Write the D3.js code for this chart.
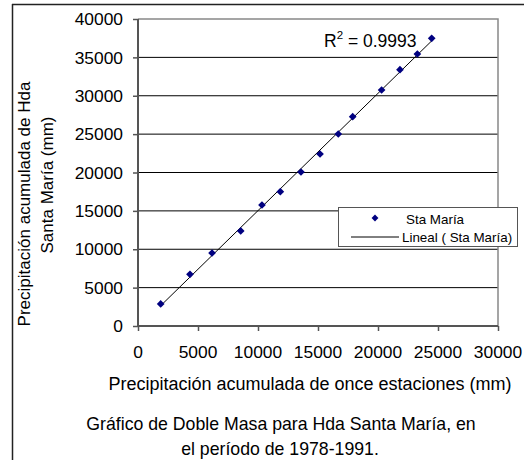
<!DOCTYPE html>
<html><head><meta charset="utf-8">
<script src="https://cdn.jsdelivr.net/npm/d3@7"></script>
<style>body{margin:0;background:#fff}svg{display:block}text{font-family:"Liberation Sans",Arial,sans-serif;fill:#000}</style>
</head><body><svg id="c" width="524" height="460"></svg>
<script>
const xValues = [1890, 4330, 6170, 8560, 10330, 11860, 13580, 15170, 16690, 17890, 20300, 21830, 23280, 24475];
const yValues = [2870, 6730, 9510, 12380, 15765, 17500, 20065, 22410, 25015, 27270, 30750, 33395, 35440, 37485];
const xTicks = [0, 5000, 10000, 15000, 20000, 25000, 30000];
const yTicks = [0, 5000, 10000, 15000, 20000, 25000, 30000, 35000, 40000];
const seriesName = "Sta María";
const trendName = "Lineal ( Sta María)";
const r2Label = "0.9993";
const xTitle = "Precipitación acumulada de once estaciones (mm)";
const yTitle = ["Precipitación acumulada de Hda", "Santa María (mm)"];
const caption = ["Gráfico de Doble Masa para Hda Santa María, en", "el período de 1978-1991."];

const svg = d3.select("#c");
const FS = 17.4;
const L = 138, R = 498, T = 19, B = 326;
const x = d3.scaleLinear().domain([0, 30000]).range([L, R]);
const y = d3.scaleLinear().domain([0, 40000]).range([B, T]);

function htext(px, py, str, anchor, size) {
  return svg.append("text").attr("x", px).attr("y", py)
    .attr("text-anchor", anchor || "start").attr("font-size", size || FS).text(str);
}

// outer frame
svg.append("line").attr("x1", 12.5).attr("x2", 12.5).attr("y1", 4).attr("y2", 460).attr("stroke", "#222").attr("stroke-width", 1.5);
svg.append("line").attr("x1", 12).attr("x2", 524).attr("y1", 4.5).attr("y2", 4.5).attr("stroke", "#222").attr("stroke-width", 1.5);

// gridlines
svg.append("g").selectAll("line").data(yTicks.filter(d => d > 0 && d < 40000)).join("line")
  .attr("x1", L).attr("x2", R).attr("y1", d => y(d)).attr("y2", d => y(d))
  .attr("stroke", "#000").attr("stroke-width", 1);
// plot border (top/right)
svg.append("path").attr("d", `M${L},${y(40000)}H${R}V${B}`).attr("fill", "none").attr("stroke", "#888").attr("stroke-width", 1.5);

// axes (lines + ticks)
const ya = svg.append("g").attr("transform", `translate(${L},0)`)
  .call(d3.axisLeft(y).tickValues(yTicks).tickSize(5).tickFormat(""));
const xa = svg.append("g").attr("transform", `translate(0,${B})`)
  .call(d3.axisBottom(x).tickValues(xTicks).tickSize(5).tickFormat(""));
[ya, xa].forEach(g => {
  g.select(".domain").attr("stroke", "#555").attr("stroke-width", 2);
  g.selectAll(".tick line").attr("stroke", "#555").attr("stroke-width", 1.5);
});
xa.select(".domain").attr("d", `M${L},0H${R}`);
ya.select(".domain").attr("d", `M0,${B}V${T}`);

// tick labels
const fmt = d3.format("d");
yTicks.forEach(t => htext(123, y(t) + 6.2, fmt(t), "end"));
xTicks.forEach(t => htext(x(t), 358, fmt(t), "middle"));

// trend line (least squares)
const n = xValues.length;
const mx = d3.mean(xValues), my = d3.mean(yValues);
let sxy = 0, sxx = 0;
for (let i = 0; i < n; i++) { sxy += (xValues[i] - mx) * (yValues[i] - my); sxx += (xValues[i] - mx) ** 2; }
const slope = sxy / sxx, icpt = my - slope * mx;
const x0 = d3.min(xValues), x1 = d3.max(xValues);
svg.append("line").attr("x1", x(x0)).attr("y1", y(icpt + slope * x0)).attr("x2", x(x1)).attr("y2", y(icpt + slope * x1))
  .attr("stroke", "#000").attr("stroke-width", 1);

// markers
const diamond = d3.symbol().type(d3.symbolDiamond2).size(38);
svg.append("g").selectAll("path").data(xValues.map((v, i) => [v, yValues[i]])).join("path")
  .attr("d", diamond).attr("transform", d => `translate(${x(d[0])},${y(d[1])})`).attr("fill", "#000080");

// R2 label
const r2 = htext(324, 46.5, "", "start", 17.5);
r2.append("tspan").text("R");
r2.append("tspan").attr("dy", -8).attr("font-size", 11.5).text("2");
r2.append("tspan").attr("dy", 8).text(" = " + r2Label);

// legend
const lg = svg.append("g");
lg.append("rect").attr("x", 338.5).attr("y", 207.5).attr("width", 179).attr("height", 39).attr("fill", "#fff").attr("stroke", "#555").attr("stroke-width", 1);
lg.append("path").attr("d", d3.symbol().type(d3.symbolDiamond2).size(30)).attr("transform", "translate(375,218)").attr("fill", "#000080");
lg.append("text").attr("x", 406).attr("y", 223.5).attr("font-size", 13.4).text(seriesName);
lg.append("line").attr("x1", 351).attr("x2", 399).attr("y1", 237).attr("y2", 237).attr("stroke", "#000");
lg.append("text").attr("x", 402).attr("y", 241.5).attr("font-size", 13.4).text(trendName);

// axis titles
htext(310, 390, xTitle, "middle", 18);
svg.append("text").attr("transform", "translate(30,204) rotate(-90)").attr("text-anchor", "middle").attr("font-size", 17).text(yTitle[0]);
svg.append("text").attr("transform", "translate(52.5,185) rotate(-90)").attr("text-anchor", "middle").attr("font-size", 17).text(yTitle[1]);

// caption
htext(281, 429.5, caption[0], "middle", 17.7);
htext(280, 454.5, caption[1], "middle", 17.7);
</script></body></html>
